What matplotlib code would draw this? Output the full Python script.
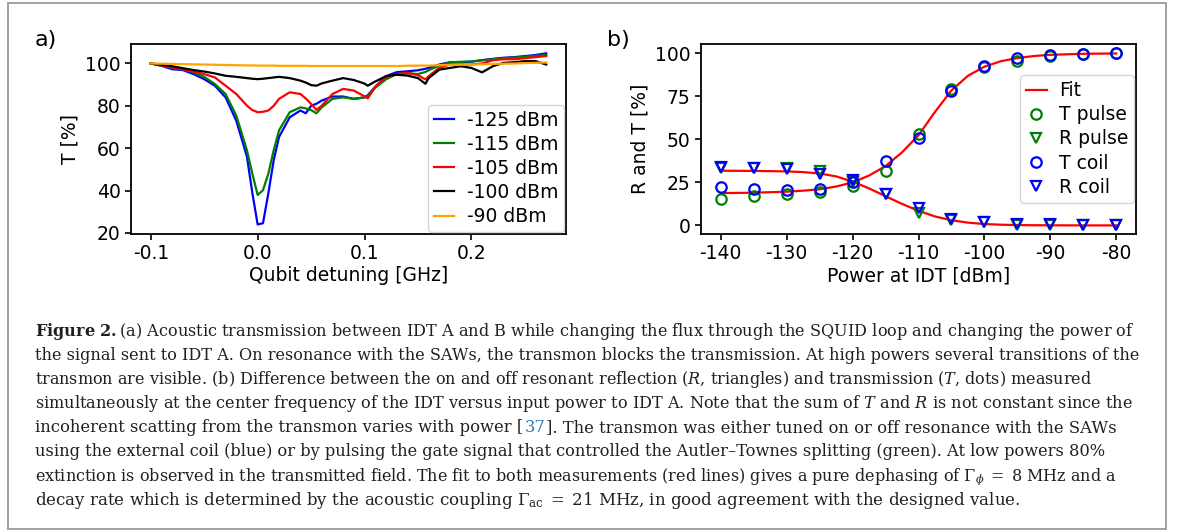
import matplotlib
matplotlib.use('Agg')
import matplotlib.pyplot as plt
from matplotlib.patches import Rectangle

# ---------------- data: panel a ----------------
detuning = [-0.1, -0.09, -0.08, -0.07, -0.06, -0.05, -0.04, -0.03, -0.02, -0.01,
            -0.005, 0.0, 0.005, 0.01, 0.015, 0.02, 0.03, 0.04, 0.045, 0.05,
            0.055, 0.06, 0.07, 0.08, 0.09, 0.1, 0.103, 0.11, 0.12, 0.13,
            0.14, 0.15, 0.157, 0.16, 0.17, 0.18, 0.19, 0.2, 0.21, 0.22,
            0.23, 0.24, 0.25, 0.26, 0.27]
T_m125 = [100, 98.9, 97.3, 96.9, 95.0, 92.6, 89.5, 84.0, 73.0, 56.0,
          39.0, 24.0, 24.6, 38.7, 54.3, 65.3, 74.6, 77.8, 76.5, 80.0,
          81.0, 82.5, 84.4, 84.4, 83.3, 84.0, 85.0, 89.0, 94.0, 95.9,
          96.3, 96.8, 97.5, 97.9, 99.5, 100.6, 100.6, 100.8, 101.6, 102.2,
          102.7, 103.0, 103.5, 104.0, 104.8]
T_m115 = [100, 99.0, 98.0, 97.3, 95.8, 93.7, 90.3, 85.6, 75.4, 59.0,
          48.0, 37.9, 40.2, 48.0, 59.0, 68.4, 77.0, 79.3, 78.8, 78.0,
          76.5, 79.3, 83.3, 84.0, 83.3, 84.0, 84.5, 88.5, 92.5, 95.0,
          95.5, 95.0, 96.0, 96.8, 99.0, 100.5, 100.8, 101.0, 101.5, 102.0,
          102.5, 102.8, 103.2, 103.6, 104.0]
T_m105 = [100, 99.2, 98.1, 97.3, 96.2, 95.0, 93.4, 89.5, 85.6, 80.1,
          78.0, 77.0, 77.2, 77.8, 80.0, 83.3, 86.4, 85.6, 83.5, 80.9,
          78.1, 80.1, 85.6, 88.0, 87.2, 84.5, 83.5, 89.0, 93.5, 95.0,
          95.5, 94.5, 92.5, 94.0, 98.0, 99.5, 99.5, 99.5, 100.0, 101.5,
          102.0, 102.0, 102.5, 103.0, 103.5]
T_m100 = [100, 99.4, 98.7, 97.8, 96.9, 96.2, 95.3, 94.2, 93.7, 93.1,
          92.8, 92.6, 92.8, 93.1, 93.4, 93.7, 93.1, 91.9, 91.0, 89.8,
          89.5, 90.6, 91.9, 93.1, 92.2, 90.5, 89.5, 91.5, 94.0, 94.7,
          94.3, 93.1, 90.4, 93.1, 97.1, 97.9, 98.7, 97.9, 95.8, 98.7,
          100.3, 100.6, 101.1, 101.1, 99.5]
T_m90 = [100, 99.9, 99.8, 99.7, 99.6, 99.5, 99.4, 99.3, 99.2, 99.1,
         99.1, 99.0, 99.0, 99.0, 99.0, 98.9, 98.9, 98.9, 98.9, 98.8,
         98.8, 98.8, 98.8, 98.8, 98.8, 98.8, 98.8, 98.8, 98.8, 98.8,
         98.9, 99.0, 99.0, 99.0, 99.2, 99.3, 99.4, 99.5, 99.6, 99.8,
         99.9, 100.0, 100.2, 100.3, 100.5]
series_a = [T_m125, T_m115, T_m105, T_m100, T_m90]
labels_a = ['-125 dBm', '-115 dBm', '-105 dBm', '-100 dBm', '-90 dBm']
colors_a = ['blue', 'green', 'red', 'black', 'orange']

# ---------------- data: panel b ----------------
power = [-140, -135, -130, -125, -120, -115, -110, -105, -100, -95, -90, -85, -80]
T_pulse = [15.4, 17.3, 18.1, 19.3, 23.1, 31.8, 53.4, 79.4, 91.9, 95.4, 98.3, 99.6, 100]
R_pulse = [33.1, 33.1, 33.1, 31.6, 25.4, 18.3, 7.1, 2.9, 1.7, 0.4, 0.2, 0.2, 0.2]
T_coil = [22.2, 21.2, 20.6, 21.2, 25.0, 37.6, 51.0, 78.0, 92.9, 97.3, 99.2, 99.6, 100]
R_coil = [34.1, 33.1, 32.8, 29.7, 26.4, 18.3, 10.0, 3.7, 1.7, 0.8, 0.6, 0.4, 0.4]
fit_power = [-140, -135, -130, -127.5, -125, -122.5, -120, -117.5, -115, -112.5, -110,
             -107.5, -105, -102.5, -100, -97.5, -95, -92.5, -90, -85, -80]
T_fit = [18.8, 19.0, 19.6, 20.2, 21.0, 22.6, 25.0, 29.0, 34.5, 42.5, 52.4,
         66.0, 78.5, 87.0, 92.3, 95.5, 97.3, 98.5, 99.2, 99.8, 100]
R_fit = [31.8, 31.7, 31.4, 31.0, 30.2, 28.5, 25.5, 21.5, 17.0, 12.5, 8.5,
         5.2, 3.0, 1.6, 0.8, 0.4, 0.2, 0.1, 0.05, 0.0, 0.0]

# caption lines; each line is a list of (text, is_link) pieces
caption_lines = [
    [(r"$\mathbf{Figure\ 2.}$(a) Acoustic transmission between IDT A and B while changing the flux through the SQUID loop and changing the power of", False)],
    [("the signal sent to IDT A. On resonance with the SAWs, the transmon blocks the transmission. At high powers several transitions of the", False)],
    [(r"transmon are visible. (b) Difference between the on and off resonant reflection ($R$, triangles) and transmission ($T$, dots) measured", False)],
    [(r"simultaneously at the center frequency of the IDT versus input power to IDT A. Note that the sum of $T$ and $R$ is not constant since the", False)],
    [("incoherent scatting from the transmon varies with power [", False), ("37", True),
     ("]. The transmon was either tuned on or off resonance with the SAWs", False)],
    [("using the external coil (blue) or by pulsing the gate signal that controlled the Autler\u2013Townes splitting (green). At low powers 80%", False)],
    [(r"extinction is observed in the transmitted field. The fit to both measurements (red lines) gives a pure dephasing of $\Gamma_\phi\;=\;8$ MHz and a", False)],
    [(r"decay rate which is determined by the acoustic coupling $\Gamma_\mathrm{ac}\;=\;21$ MHz, in good agreement with the designed value.", False)],
]
# right end of each caption line in the reference (px)
caption_line_ends = [1132, 1132, 1093, 1132, 1110, 1100, 1117, 1017]

# ---------------- style ----------------
plt.rcParams['font.family'] = ['DejaVu Sans']
plt.rcParams['axes.unicode_minus'] = False
plt.rcParams['mathtext.fontset'] = 'dejavuserif'
FS = 13.5

W, H = 1182, 531
fig = plt.figure(figsize=(W / 100, H / 100), dpi=100)

ax1 = fig.add_axes([131 / W, 1 - 234 / H, 435 / W, 190 / H])
ax2 = fig.add_axes([701 / W, 1 - 234 / H, 435 / W, 190 / H])

leg_kw = dict(fontsize=FS, handlelength=1.1, borderpad=0.32, labelspacing=0.27,
              handletextpad=0.65, borderaxespad=0.1)

for vals, lab, col in zip(series_a, labels_a, colors_a):
    ax1.plot(detuning, vals, color=col, lw=1.6, label=lab)
ax1.set_xlim(-0.1185, 0.2885)
ax1.set_ylim(19.5, 109.2)
ax1.set_xticks([-0.1, 0.0, 0.1, 0.2])
ax1.set_xticklabels(['-0.1', '0.0', '0.1', '0.2'])
ax1.set_yticks([20, 40, 60, 80, 100])
ax1.set_xlabel('Qubit detuning [GHz]', fontsize=FS, labelpad=2)
ax1.set_ylabel('T [%]', fontsize=FS)
ax1.tick_params(labelsize=FS, width=1.2, length=4)
ax1.legend(loc='lower right', **leg_kw)

ax2.plot(fit_power, T_fit, color='red', lw=1.6, label='Fit')
ax2.plot(fit_power, R_fit, color='red', lw=1.6)
mk = dict(ls='none', ms=7.5, mew=1.6, mfc='none')
ax2.plot(power, T_pulse, marker='o', mec='green', label='T pulse', **mk)
ax2.plot(power, R_pulse, marker='v', mec='green', label='R pulse', **mk)
ax2.plot(power, T_coil, marker='o', mec='blue', label='T coil', **mk)
ax2.plot(power, R_coil, marker='v', mec='blue', label='R coil', **mk)
ax2.set_xlim(-143, -77)
ax2.set_ylim(-5, 105.5)
ax2.set_xticks(power[::2])
ax2.set_yticks([0, 25, 50, 75, 100])
ax2.set_xlabel('Power at IDT [dBm]', fontsize=FS, labelpad=2)
ax2.set_ylabel('R and T [%]', fontsize=FS)
ax2.tick_params(labelsize=FS, width=1.2, length=4)
ax2.legend(loc='center right', **leg_kw)

for ax in (ax1, ax2):
    for s in ax.spines.values():
        s.set_linewidth(1.3)

fig.text(35 / W, 1 - 40 / H, 'a)', fontsize=16, va='center', ha='left')
fig.text(607 / W, 1 - 40 / H, 'b)', fontsize=16, va='center', ha='left')

# ---------------- frame ----------------
fig.patches.append(Rectangle((8 / W, 1 - 529 / H), (1166 - 8) / W, (529 - 3) / H,
                             transform=fig.transFigure, fill=False,
                             edgecolor='#a0a0a0', lw=1.4))

# ---------------- caption ----------------
cap_x0 = 35
cap_y0, cap_dy = 336, 24.1
renderer = fig.canvas.get_renderer()
base = dict(family='DejaVu Serif', color='#231f20', va='baseline', ha='left')


def draw_line(pieces, y, fs):
    x = cap_x0
    objs = []
    for j, (txt, link) in enumerate(pieces):
        props = dict(base)
        if link:
            props['color'] = '#2a7ab8'
        t = fig.text(x / W, y, txt, fontsize=fs, **props)
        objs.append(t)
        x = t.get_window_extent(renderer).x1 + 1.2
    return objs, x - 1.2


for i, pieces in enumerate(caption_lines):
    y = 1 - (cap_y0 + i * cap_dy) / H
    objs, xend = draw_line(pieces, y, 12)
    for o in objs:
        o.remove()
    fs = 12 * (caption_line_ends[i] - cap_x0) / (xend - cap_x0)
    draw_line(pieces, y, fs)

fig.savefig('out.png', dpi=100)
